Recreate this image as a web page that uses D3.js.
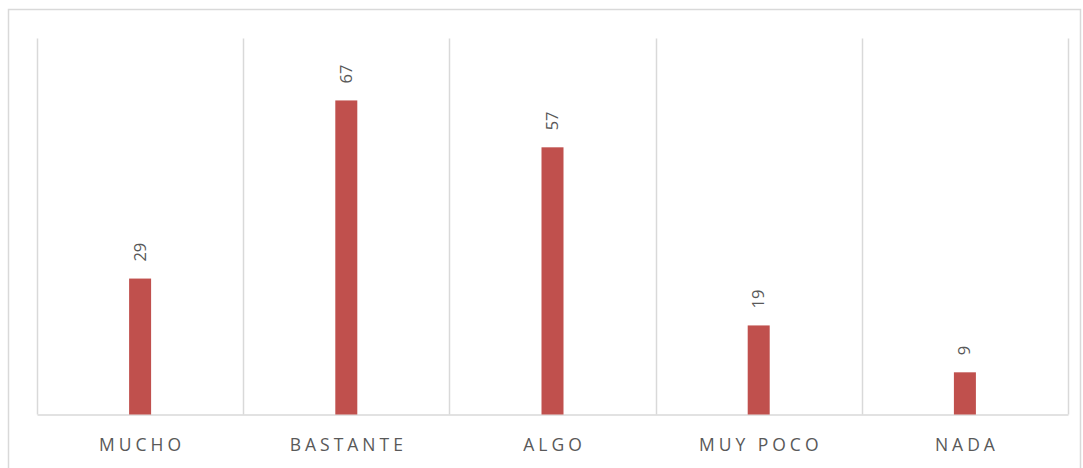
<!DOCTYPE html>
<html><head><meta charset="utf-8">
<script src="https://cdn.jsdelivr.net/npm/d3@7"></script>
<style>html,body{margin:0;padding:0;background:#fff;}svg{display:block;}</style>
</head><body>
<svg id="c" width="1083" height="468"></svg>
<script>
const categories = ["MUCHO", "BASTANTE", "ALGO", "MUY POCO", "NADA"];
const values = [29, 67, 57, 19, 9];
const yDomain = [0, 80];

const svg = d3.select("#c");
svg.append("rect").attr("x", 8.5).attr("y", 9.5).attr("width", 1072).attr("height", 470)
  .attr("fill", "#fff").attr("stroke", "#d9d9d9").attr("stroke-width", 1.5);

const pLeft = 37, pRight = 1068, pTop = 39.5, pBottom = 414.5;
const x = d3.scaleBand().domain(categories).range([pLeft, pRight]).padding(0);
const y = d3.scaleLinear().domain(yDomain).range([pBottom, pTop]);

// gridlines between categories
const bounds = categories.map(c => x(c)).concat([pRight]);
svg.append("g").selectAll("line").data(bounds).join("line")
  .attr("x1", d => Math.round(d) + 0.5).attr("x2", d => Math.round(d) + 0.5)
  .attr("y1", pTop - 1).attr("y2", pBottom)
  .attr("stroke", "#d9d9d9").attr("stroke-width", 1.5);

// axis
const axis = d3.axisBottom(x).tickSize(0).tickPadding(24);
const ag = svg.append("g").attr("transform", `translate(0,${pBottom})`).call(axis);
ag.select(".domain").attr("stroke", "#d9d9d9").attr("stroke-width", 1.5);
ag.selectAll("text").attr("font-family", "'Open Sans', sans-serif").attr("font-size", 17.5)
  .attr("fill", "#595959").attr("letter-spacing", "4px").attr("dx", "2px");

const bw = 22;
svg.append("g").selectAll("rect").data(values).join("rect")
  .attr("x", (d, i) => x(categories[i]) + x.bandwidth() / 2 - bw / 2)
  .attr("y", d => y(d)).attr("width", bw).attr("height", d => y(0) - y(d))
  .attr("fill", "#c0504d");

svg.append("g").selectAll("text").data(values).join("text")
  .attr("transform", (d, i) => `translate(${x(categories[i]) + x.bandwidth() / 2 + 5.5},${y(d) - 17}) rotate(-90)`)
  .attr("text-anchor", "start")
  .attr("font-family", "'Open Sans', sans-serif").attr("font-size", 16.5)
  .attr("fill", "#595959").text(d => d);
</script>
</body></html>
